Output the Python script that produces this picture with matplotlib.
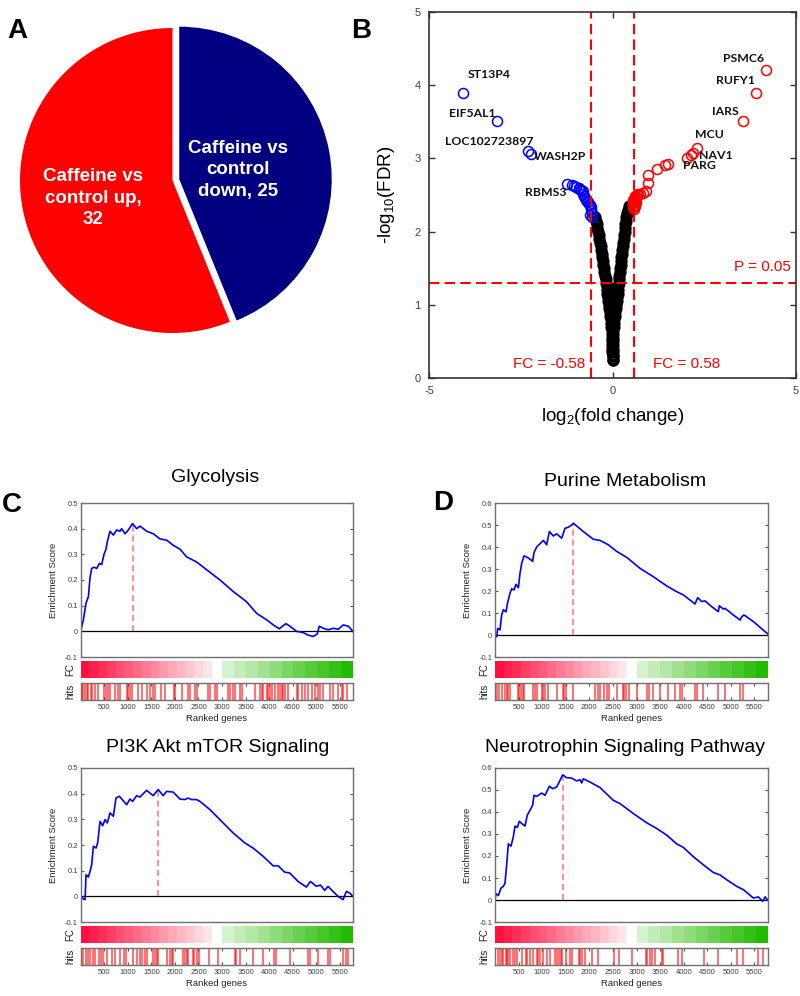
import numpy as np
import matplotlib
matplotlib.use("Agg")
import matplotlib.pyplot as plt
from matplotlib.colors import LinearSegmentedColormap
from matplotlib.ticker import FuncFormatter

plt.rcParams['font.family'] = ['Liberation Sans', 'DejaVu Sans']
plt.rcParams['axes.unicode_minus'] = False
plt.rcParams['mathtext.fontset'] = 'custom'
plt.rcParams['mathtext.rm'] = 'Liberation Sans'
plt.rcParams['mathtext.it'] = 'Liberation Sans:italic'

# ---------------- Data ----------------
# Panel A: pie
pie_labels = ["Caffeine vs\ncontrol\ndown, 25", "Caffeine vs\ncontrol up,\n32"]
pie_values = [25, 32]
pie_colors = ['#000080', '#ff0000']

# Panel B: volcano
ns_left_x = [0.00, -0.00, -0.01, -0.01, -0.01, -0.01, -0.01, -0.02, -0.02, -0.03, -0.04, -0.05, -0.06, -0.07,
             -0.09, -0.10, -0.11, -0.12, -0.14, -0.15, -0.16, -0.17, -0.19, -0.20, -0.22, -0.23, -0.25, -0.26,
             -0.28, -0.29, -0.31, -0.32, -0.34, -0.36, -0.38, -0.39, -0.41, -0.43, -0.45, -0.48]
ns_left_y = [0.25, 0.30, 0.35, 0.40, 0.45, 0.50, 0.55, 0.60, 0.65, 0.70, 0.75, 0.80, 0.85, 0.90, 0.95, 1.00,
             1.05, 1.10, 1.15, 1.20, 1.25, 1.30, 1.35, 1.40, 1.45, 1.50, 1.55, 1.60, 1.65, 1.70, 1.75, 1.80,
             1.85, 1.90, 1.95, 2.00, 2.05, 2.10, 2.15, 2.20]
ns_right_x = [0.00, 0.00, 0.00, 0.01, 0.01, 0.01, 0.01, 0.01, 0.02, 0.03, 0.04, 0.05, 0.06, 0.07, 0.09, 0.10,
              0.11, 0.12, 0.14, 0.15, 0.16, 0.17, 0.18, 0.19, 0.20, 0.21, 0.22, 0.23, 0.24, 0.26, 0.27, 0.28,
              0.29, 0.30, 0.32, 0.33, 0.34, 0.35, 0.37, 0.38, 0.40, 0.42, 0.45]
ns_right_y = [0.25, 0.30, 0.35, 0.40, 0.45, 0.50, 0.55, 0.60, 0.65, 0.70, 0.75, 0.80, 0.85, 0.90, 0.95, 1.00,
              1.05, 1.10, 1.15, 1.20, 1.25, 1.30, 1.35, 1.40, 1.45, 1.50, 1.55, 1.60, 1.65, 1.70, 1.75, 1.80,
              1.85, 1.90, 1.95, 2.00, 2.05, 2.10, 2.15, 2.20, 2.25, 2.30, 2.35]
down_x = [-4.07, -3.14, -2.29, -2.22, -1.25, -1.11, -1.05, -1.00, -0.92, -0.90, -0.85, -0.81, -0.80, -0.78,
          -0.75, -0.72, -0.69, -0.66, -0.63, -0.61, -0.59, -0.58, -0.57, -0.60, -0.56]
down_y = [3.90, 3.51, 3.10, 3.06, 2.65, 2.63, 2.62, 2.61, 2.59, 2.58, 2.57, 2.56, 2.52, 2.49, 2.46, 2.43,
          2.42, 2.40, 2.38, 2.36, 2.33, 2.30, 2.25, 2.22, 2.20]
up_x = [4.17, 3.90, 3.55, 2.31, 2.20, 2.14, 2.02, 1.52, 1.43, 1.20, 0.98, 0.98, 0.90, 0.84, 0.75, 0.69,
        0.66, 0.62, 0.60, 0.58, 0.57, 0.59, 0.61, 0.63, 0.56, 0.58, 0.60, 0.62, 0.59, 0.57, 0.64, 0.58]
up_y = [4.21, 3.90, 3.51, 3.14, 3.08, 3.05, 3.01, 2.93, 2.91, 2.85, 2.77, 2.66, 2.55, 2.53, 2.52, 2.51,
        2.50, 2.48, 2.46, 2.45, 2.43, 2.42, 2.41, 2.40, 2.39, 2.37, 2.36, 2.35, 2.34, 2.33, 2.47, 2.31]
gene_names = ['ST13P4', 'EIF5AL1', 'LOC102723897', 'WASH2P', 'RBMS3',
              'PSMC6', 'RUFY1', 'IARS', 'MCU', 'NAV1', 'PARG']
gene_label_x = [-3.37, -3.82, -3.37, -1.43, -1.82, 3.57, 3.36, 3.07, 2.64, 2.81, 2.37]
gene_label_y = [4.14, 3.62, 3.23, 3.03, 2.54, 4.37, 4.07, 3.64, 3.32, 3.04, 2.90]
fc_cut = 0.58
p_cut = 1.301

# Panels C/D: GSEA running enrichment scores
glyco_rank = [0, 57, 113, 163, 198, 233, 283, 340, 396, 445, 495, 537, 566, 622, 693, 764, 834, 870, 940,
              1011, 1100, 1188, 1259, 1400, 1542, 1683, 1825, 1966, 2107, 2249, 2461, 2673, 2956, 3239, 3522,
              3734, 3946, 4088, 4215, 4356, 4441, 4583, 4724, 4830, 4936, 5021, 5063, 5148, 5255, 5361, 5467,
              5573, 5679, 5780]
glyco_es = [0, 0.045, 0.11, 0.135, 0.21, 0.245, 0.25, 0.245, 0.265, 0.26, 0.30, 0.32, 0.35, 0.39, 0.375, 0.395,
            0.39, 0.40, 0.38, 0.395, 0.42, 0.40, 0.41, 0.39, 0.38, 0.36, 0.355, 0.335, 0.32, 0.29, 0.27, 0.24,
            0.20, 0.155, 0.115, 0.07, 0.045, 0.025, 0.01, 0.03, 0.02, 0.0, -0.005, -0.015, -0.02, -0.01, 0.02,
            0.012, 0.006, 0.012, 0.008, 0.025, 0.02, 0.0]
glyco_hits = [20, 56, 91, 127, 162, 218, 247, 303, 374, 501, 530, 586, 621, 728, 784, 834, 975, 1011, 1046,
              1081, 1223, 1293, 1399, 1470, 1527, 1576, 1704, 1789, 1973, 2001, 2142, 2270, 2319, 2425, 2461,
              2708, 2744, 2850, 2885, 3119, 3168, 3239, 3274, 3380, 3416, 3699, 3805, 3840, 3876, 3946, 3981,
              4017, 4052, 4123, 4194, 4229, 4264, 4300, 4335, 4406, 4583, 4618, 4689, 4759, 4830, 4901, 4971,
              5028, 5077, 5148, 5290, 5360, 5466, 5537, 5573, 5643]

purine_rank = [0, 35, 56, 106, 141, 177, 233, 261, 318, 353, 403, 445, 495, 530, 565, 615, 707, 798, 827, 883,
               954, 1025, 1095, 1152, 1237, 1307, 1413, 1484, 1555, 1625, 1660, 1873, 2085, 2226, 2402, 2579,
               2791, 3074, 3356, 3639, 3851, 3992, 4134, 4240, 4296, 4381, 4452, 4593, 4734, 4755, 4840, 4876,
               5052, 5194, 5229, 5279, 5476, 5780]
purine_es = [0, -0.008, 0.03, 0.023, 0.09, 0.115, 0.105, 0.14, 0.19, 0.21, 0.205, 0.23, 0.215, 0.28, 0.325,
             0.36, 0.35, 0.335, 0.375, 0.40, 0.415, 0.43, 0.41, 0.47, 0.45, 0.46, 0.44, 0.485, 0.49, 0.50, 0.508,
             0.47, 0.435, 0.43, 0.41, 0.38, 0.353, 0.303, 0.265, 0.223, 0.197, 0.182, 0.159, 0.141, 0.17, 0.152,
             0.155, 0.129, 0.106, 0.133, 0.118, 0.121, 0.091, 0.068, 0.083, 0.091, 0.061, 0.005]
purine_hits = [35, 92, 141, 212, 247, 283, 318, 495, 516, 544, 587, 622, 813, 848, 883, 989, 1025, 1060, 1131,
               1307, 1434, 1462, 1505, 1646, 2120, 2176, 2226, 2310, 2367, 2423, 2579, 2706, 2734, 2777, 2847,
               3003, 3215, 3271, 3356, 3497, 3674, 3816, 3922, 3957, 4240, 4275, 4417, 4734, 4876, 5194, 5264]

pi3k_rank = [0, 57, 92, 113, 163, 198, 233, 269, 325, 360, 410, 466, 516, 565, 622, 693, 749, 820, 975, 1046,
             1102, 1187, 1258, 1399, 1540, 1611, 1646, 1752, 1823, 1964, 2106, 2212, 2282, 2353, 2459, 2530,
             2742, 2954, 3236, 3484, 3660, 3872, 4084, 4190, 4331, 4437, 4614, 4791, 4876, 5003, 5088, 5179,
             5250, 5356, 5462, 5568, 5639, 5710, 5780]
pi3k_es = [0, -0.01, -0.013, 0.084, 0.075, 0.097, 0.123, 0.195, 0.188, 0.208, 0.292, 0.275, 0.299, 0.286,
           0.325, 0.312, 0.383, 0.39, 0.357, 0.379, 0.37, 0.392, 0.387, 0.413, 0.392, 0.409, 0.416, 0.392, 0.409,
           0.406, 0.379, 0.377, 0.383, 0.377, 0.377, 0.37, 0.338, 0.299, 0.247, 0.208, 0.188, 0.156, 0.119,
           0.119, 0.094, 0.091, 0.058, 0.036, 0.058, 0.039, 0.044, 0.023, 0.039, 0.019, 0.0, -0.013, 0.019,
           0.013, 0.0]
pi3k_hits = [57, 113, 163, 198, 254, 304, 396, 424, 466, 565, 657, 728, 834, 919, 961, 1116, 1187, 1258, 1293,
             1364, 1399, 1540, 1576, 1611, 1646, 1823, 1894, 1929, 1964, 2162, 2212, 2247, 2282, 2374, 2402,
             2459, 2516, 2727, 2918, 3272, 3307, 3378, 3660, 3872, 4098, 4155, 4437, 4826, 4861, 5038, 5250,
             5285, 5568, 5639, 5674]

neuro_rank = [0, 21, 71, 127, 177, 212, 247, 283, 339, 389, 424, 473, 516, 565, 636, 685, 742, 798, 827, 883,
              940, 989, 1060, 1152, 1222, 1307, 1378, 1434, 1519, 1625, 1731, 1802, 1837, 1873, 2014, 2226,
              2508, 2650, 2932, 3215, 3427, 3639, 3851, 3992, 4204, 4416, 4628, 4770, 4911, 5123, 5264, 5476,
              5582, 5674, 5724, 5780]
neuro_es = [0, 0.029, 0.02, 0.054, 0.062, 0.077, 0.16, 0.255, 0.245, 0.288, 0.336, 0.33, 0.358, 0.348, 0.336,
            0.386, 0.408, 0.431, 0.476, 0.471, 0.479, 0.486, 0.476, 0.517, 0.506, 0.514, 0.544, 0.569, 0.556,
            0.554, 0.541, 0.547, 0.532, 0.551, 0.536, 0.511, 0.453, 0.438, 0.393, 0.351, 0.325, 0.295, 0.255,
            0.239, 0.197, 0.16, 0.125, 0.114, 0.092, 0.062, 0.047, 0.009, 0.014, -0.006, 0.014, 0.0]
neuro_hits = [71, 106, 141, 177, 233, 261, 283, 318, 389, 424, 459, 565, 657, 685, 742, 798, 883, 919, 954,
              1025, 1095, 1166, 1272, 1307, 1364, 1392, 1413, 1505, 1590, 1625, 1788, 1802, 1837, 1908, 2049,
              2190, 2523, 2629, 2911, 3201, 3229, 3286, 3321, 3392, 3533, 3568, 3886, 3957, 4431, 4734, 5123,
              5264, 5582, 5688]

n_genes = 5780
rank_ticks = [500, 1000, 1500, 2000, 2500, 3000, 3500, 4000, 4500, 5000, 5500]
fc_red_levels = [1.0, 0.93, 0.87, 0.80, 0.73, 0.67, 0.60, 0.53, 0.47, 0.40, 0.33, 0.27, 0.20, 0.13, 0.07]
fc_green_levels = [0.09, 0.18, 0.27, 0.36, 0.45, 0.55, 0.64, 0.73, 0.82, 0.91, 1.0]

# ---------------- Figure ----------------
W, H = 800, 996
fig = plt.figure(figsize=(W / 100, H / 100), dpi=100)


def add_ax(l, t, r, b):
    return fig.add_axes([l / W, 1 - b / H, (r - l) / W, (b - t) / H])


def panel_letter(x, y, s):
    fig.text(x / W, 1 - y / H, s, fontsize=20, fontweight='bold', ha='center', va='center')


# ---- Panel A ----
cx, cy, R = 172.5, 180.5, 152.5
half = 1.1 * R
pax = add_ax(cx - half, cy - half, cx + half, cy + half)
pax.pie(pie_values, colors=pie_colors, startangle=90, counterclock=False,
        explode=[0.045, 0], radius=1, wedgeprops=dict(linewidth=0))
pax.set_xlim(-1.1, 1.1)
pax.set_ylim(-1.1, 1.1)
pax.set_aspect('equal')
pax.axis('off')
pax.text(0.43, 0.069, pie_labels[0], color='white', fontsize=13.5, fontweight='bold',
         ha='center', va='center', linespacing=1.35)
pax.text(-0.52, -0.115, pie_labels[1], color='white', fontsize=13.5, fontweight='bold',
         ha='center', va='center', linespacing=1.35)
panel_letter(17, 31, 'A')

# ---- Panel B ----
vax = add_ax(429, 12, 796, 378)
mk = dict(ls='none', marker='o', mfc='none', ms=7.2, mew=1.1)
mk_ns = dict(ls='none', marker='o', mfc='none', ms=6.4, mew=2.4)
vax.plot(ns_left_x, ns_left_y, mec='black', **mk_ns)
vax.plot(ns_right_x, ns_right_y, mec='black', **mk_ns)
vax.plot(down_x, down_y, mec='#0000ff', **mk)
vax.plot(up_x, up_y, mec='#ff0000', **mk)
dash = dict(color='#ff0000', lw=1.5, ls=(0, (5, 2.5)))
vax.axvline(-fc_cut, **dash)
vax.axvline(fc_cut, **dash)
vax.axhline(p_cut, **dash)
for name, tx, ty in zip(gene_names, gene_label_x, gene_label_y):
    vax.text(tx, ty, name, fontsize=8.8, fontweight='bold', family=['Lato', 'DejaVu Sans'],
             ha='center', va='center', color='#111111')
vax.text(4.09, 1.51, 'P = 0.05', color='#ff0000', fontsize=11, ha='center', va='center')
vax.text(-1.73, 0.19, 'FC = -0.58', color='#ff0000', fontsize=11, ha='center', va='center')
vax.text(2.02, 0.19, 'FC = 0.58', color='#ff0000', fontsize=11, ha='center', va='center')
vax.set_xlim(-5, 5)
vax.set_ylim(0, 5)
vax.set_xticks([-5, 0, 5])
vax.set_yticks([0, 1, 2, 3, 4, 5])
vax.tick_params(direction='in', top=True, right=True, length=4, width=1, labelsize=8,
                labelcolor='#404040', color='#333333', pad=6)
for s in vax.spines.values():
    s.set_color('#333333')
    s.set_linewidth(1.2)
vax.set_xlabel('log$_2$(fold change)', fontsize=13.5)
vax.set_ylabel('-log$_{10}$(FDR)', fontsize=13.5)
vax.xaxis.set_label_coords(0.5, -0.077)
vax.yaxis.set_label_coords(-0.088, 0.5)
panel_letter(361, 31, 'B')

# ---- Panels C/D ----
red_cmap = LinearSegmentedColormap.from_list('r', ['#fff4f4', '#ff1040'])
green_cmap = LinearSegmentedColormap.from_list('g', ['#e8f7e2', '#22bb00'])
fmt = FuncFormatter(lambda v, p: ('%g' % round(v, 2)))


def gsea(left, right, top, title, title_xy, ranks, es, hits, ylim, yticks):
    main = add_ax(left, top, right, top + 154)
    fcax = add_ax(left, top + 158, right, top + 175)
    hax = add_ax(left, top + 180, right, top + 197)

    ranks = np.asarray(ranks)
    es = np.asarray(es)
    i = int(np.argmax(es))
    main.axhline(0, color='black', lw=0.9)
    main.plot([ranks[i], ranks[i]], [0, es[i]], color='#ff7070', lw=1.1, ls=(0, (4, 2.5)))
    main.plot(ranks, es, color='#0000ff', lw=1.2)
    main.set_xlim(0, n_genes)
    main.set_ylim(*ylim)
    main.set_xticks([])
    main.set_yticks(yticks)
    main.yaxis.set_major_formatter(fmt)
    main.tick_params(direction='in', right=True, length=2.5, labelsize=5.5, labelcolor='#404040',
                     color='#555555', pad=2)
    for s in main.spines.values():
        s.set_color('#707070')
        s.set_linewidth(1.0)
    main.set_ylabel('Enrichment Score', fontsize=6.8, color='#222222')
    main.yaxis.set_label_coords(-0.083, 0.5)

    # FC bar
    red_w = 2780 / len(fc_red_levels)
    red_edges = [k * red_w for k in range(len(fc_red_levels))]
    fcax.bar(red_edges, [1] * len(fc_red_levels), width=red_w * 1.02, align='edge',
             color=[red_cmap(v) for v in fc_red_levels], linewidth=0)
    green_w = (n_genes - 3000) / len(fc_green_levels)
    green_edges = [3000 + k * green_w for k in range(len(fc_green_levels))]
    fcax.bar(green_edges, [1] * len(fc_green_levels), width=green_w * 1.02, align='edge',
             color=[green_cmap(v) for v in fc_green_levels], linewidth=0)
    fcax.set_xlim(0, n_genes)
    fcax.set_ylim(0, 1)
    fcax.set_xticks([])
    fcax.set_yticks([])
    for s in fcax.spines.values():
        s.set_visible(False)
    fcax.set_ylabel('FC', fontsize=7, color='#222222')
    fcax.yaxis.set_label_coords(-0.021, 0.5)

    # hits
    hax.vlines(hits, 0, 1, color='#ff0000', lw=1.3, alpha=0.6)
    hax.set_xlim(0, n_genes)
    hax.set_ylim(0, 1)
    hax.set_yticks([])
    hax.set_xticks(rank_ticks)
    hax.tick_params(direction='in', top=True, length=2, labelsize=5.5, labelcolor='#404040',
                    color='#555555', pad=3)
    for s in hax.spines.values():
        s.set_color('#707070')
        s.set_linewidth(1.0)
    hax.set_ylabel('hits', fontsize=7, color='#222222')
    hax.yaxis.set_label_coords(-0.021, 0.5)
    hax.set_xlabel('Ranked genes', fontsize=6.8, color='#222222', labelpad=2)

    fig.text(title_xy[0] / W, 1 - title_xy[1] / H, title, fontsize=14, ha='center', va='center')


gsea(80.7, 353, 503, 'Glycolysis', (215, 478), glyco_rank, glyco_es, glyco_hits,
     (-0.1, 0.5), [-0.1, 0, 0.1, 0.2, 0.3, 0.4, 0.5])
gsea(495, 767.7, 503, 'Purine Metabolism', (625, 481), purine_rank, purine_es, purine_hits,
     (-0.1, 0.6), [-0.1, 0, 0.1, 0.2, 0.3, 0.4, 0.5, 0.6])
gsea(80.7, 353, 768, 'PI3K Akt mTOR Signaling', (218, 747), pi3k_rank, pi3k_es, pi3k_hits,
     (-0.1, 0.5), [-0.1, 0, 0.1, 0.2, 0.3, 0.4, 0.5])
gsea(495, 767.7, 768, 'Neurotrophin Signaling Pathway', (625, 747), neuro_rank, neuro_es, neuro_hits,
     (-0.1, 0.6), [-0.1, 0, 0.1, 0.2, 0.3, 0.4, 0.5, 0.6])
panel_letter(12, 505, 'C')
panel_letter(443, 503, 'D')

fig.savefig('out.png', dpi=100)
